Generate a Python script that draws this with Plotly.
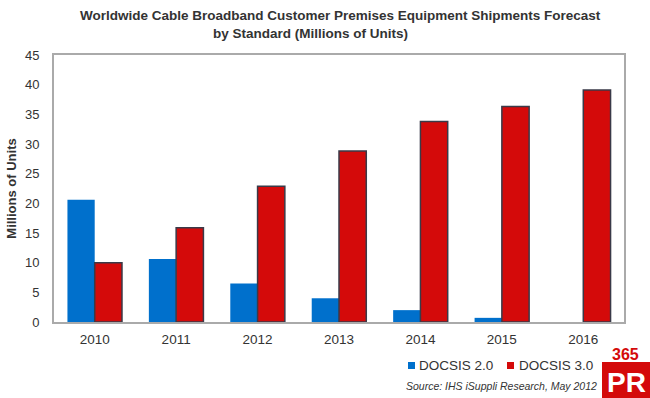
import plotly.graph_objects as go

years = ["2010", "2011", "2012", "2013", "2014", "2015", "2016"]
docsis20 = [20.6, 10.6, 6.5, 4.0, 2.0, 0.7, 0.0]
docsis30 = [10.0, 15.9, 22.9, 28.8, 33.8, 36.3, 39.1]
y_ticks = [0, 5, 10, 15, 20, 25, 30, 35, 40, 45]
series_names = ["DOCSIS 2.0", "DOCSIS 3.0"]
series_colors = ["#0070CC", "#D40A0A"]
title_lines = ["Worldwide Cable Broadband Customer Premises Equipment Shipments Forecast",
               "by Standard (Millions of Units)"]

W, H = 650, 398
L, R, T, B = 54, 26, 55, 76
PW, PH = W - L - R, H - T - B


def px(x):
    return (x - L) / PW


def py(y):
    return (H - B - y) / PH


fig = go.Figure()
fig.add_trace(go.Bar(name=series_names[0], x=years, y=docsis20,
                     marker=dict(color=series_colors[0], line=dict(width=0))))
fig.add_trace(go.Bar(name=series_names[1], x=years, y=docsis30,
                     marker=dict(color=series_colors[1], line=dict(width=1.5, color="#3a3a48"))))

fig.update_layout(
    width=W, height=H,
    margin=dict(l=L, r=R, t=T, b=B, autoexpand=False),
    paper_bgcolor="white", plot_bgcolor="white",
    barmode="group", bargap=0.33, bargroupgap=0,
    font=dict(family="Liberation Sans, Arial, sans-serif", color="#333333", size=12),
    showlegend=False,
)
fig.update_xaxes(showline=True, linecolor="#aaaaaa", linewidth=2, mirror=True,
                 ticks="", tickfont=dict(size=13.5, color="#333333"), showgrid=False,
                 automargin=False, ticklabelstandoff=4)
fig.update_yaxes(range=[0, 45], tickvals=y_ticks, showline=True, linecolor="#aaaaaa",
                 linewidth=2, mirror=True, ticks="", showgrid=False, zeroline=False,
                 tickfont=dict(size=13, color="#333333"), automargin=False,
                 ticklabelstandoff=10,
                 title=dict(text="<b>Millions of Units</b>", font=dict(size=13, color="#333333"),
                            standoff=5))

# title (two lines, as in the source image)
for txt, cx, cy in zip(title_lines, [340, 310], [15, 33]):
    fig.add_annotation(text="<b>" + txt + "</b>", xref="paper", yref="paper",
                       x=px(cx), xanchor="center", y=py(cy), yanchor="middle",
                       showarrow=False, font=dict(size=13.5, color="#333333"))

# legend (drawn as swatches + text)
legend_items = [(408, 417), (507, 517)]
for (sx, tx), name, col in zip(legend_items, series_names, series_colors):
    fig.add_shape(type="rect", xref="paper", yref="paper",
                  x0=px(sx), x1=px(sx + 7), y0=py(369), y1=py(362),
                  fillcolor=col, line=dict(width=0))
    fig.add_annotation(text=name, xref="paper", yref="paper", x=px(tx), xanchor="left",
                       y=py(365.5), yanchor="middle", showarrow=False,
                       font=dict(size=13.5, color="#333333"))

fig.add_annotation(text="<i>Source: IHS iSuppli Research, May 2012</i>",
                   xref="paper", yref="paper", x=px(599), xanchor="right",
                   y=py(386), yanchor="middle", showarrow=False,
                   font=dict(size=10.5, color="#333333"))

# 365PR watermark
fig.add_shape(type="rect", xref="paper", yref="paper",
              x0=px(602), x1=px(652), y0=py(400), y1=py(362),
              fillcolor="#D40A0A", line=dict(width=0), layer="above")
fig.add_annotation(text="<b>365</b>", xref="paper", yref="paper",
                   x=px(625), y=py(354), xanchor="center", yanchor="middle",
                   showarrow=False, font=dict(size=16, color="#D40A0A"))
fig.add_annotation(text="<b>PR</b>", xref="paper", yref="paper",
                   x=px(626), y=py(382), xanchor="center", yanchor="middle",
                   showarrow=False, font=dict(size=28, color="white"))

fig.write_html("out.html", config={"displayModeBar": False},
               post_script="document.body.style.margin='0px';")
